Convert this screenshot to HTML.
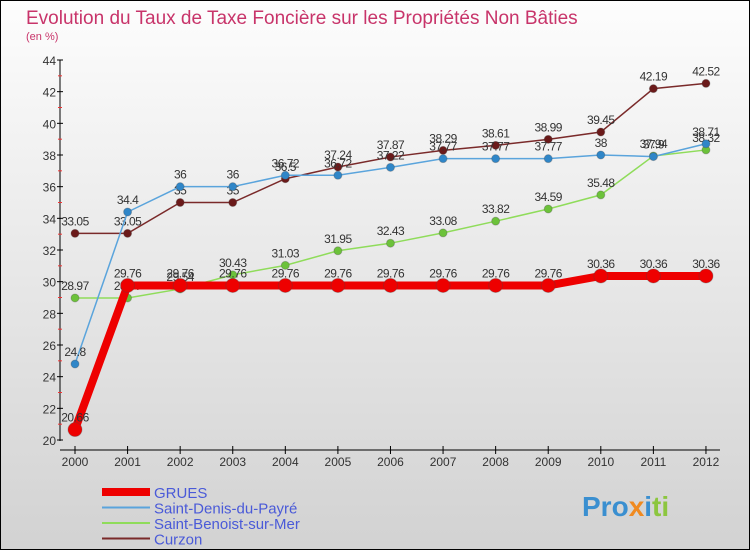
<!DOCTYPE html>
<html><head><meta charset="utf-8"><style>
body{margin:0;width:750px;height:550px;overflow:hidden;font-family:"Liberation Sans",sans-serif}
#c{position:absolute;left:0;top:0;width:748px;height:548px;border:1px solid #000;background:linear-gradient(#fdfdfd,#d2d2d2)}
</style></head><body>
<div id="c"></div>
<svg id="s" width="750" height="550" style="position:absolute;left:0;top:0" font-family="Liberation Sans, sans-serif">
<text x="26" y="24" font-size="19" fill="#c8346a">Evolution du Taux de Taxe Foncière sur les Propriétés Non Bâties</text>
<text x="26" y="40" font-size="11" fill="#c8346a">(en %)</text>
<g id="axes"></g><g id="series"></g><g id="legend"></g>
<text x="582" y="516" font-size="28" font-weight="bold" fill="#3a8fd0">Pro<tspan fill="#f08a20">x</tspan><tspan fill="#3a8fd0">i</tspan><tspan fill="#8cc63f">ti</tspan></text>
</svg>
<script>
const years=[2000,2001,2002,2003,2004,2005,2006,2007,2008,2009,2010,2011,2012];
const yTicks=[20,22,24,26,28,30,32,34,36,38,40,42,44];
const grues=[20.66,29.76,29.76,29.76,29.76,29.76,29.76,29.76,29.76,29.76,30.36,30.36,30.36];
const stDenis=[24.8,34.4,36,36,36.72,36.72,37.22,37.77,37.77,37.77,38,37.9,38.71];
const stBenoist=[28.97,28.97,29.54,30.43,31.03,31.95,32.43,33.08,33.82,34.59,35.48,37.94,38.32];
const curzon=[33.05,33.05,35,35,36.5,37.24,37.87,38.29,38.61,38.99,39.45,42.19,42.52];
const names=["GRUES","Saint-Denis-du-Payré","Saint-Benoist-sur-Mer","Curzon"];
const NS="http://www.w3.org/2000/svg";
const X=i=>75+i*52.58, Y=v=>440-(v-20)*380/24;
function mk(t,a,p){const e=document.createElementNS(NS,t);for(const k in a)e.setAttribute(k,a[k]);p.appendChild(e);return e;}
const ax=document.getElementById('axes');
let e=mk('line',{x1:60,y1:60,x2:60,y2:441,stroke:'#000'},ax);


e=mk('line',{x1:60,y1:450,x2:720,y2:450,stroke:'#000'},ax);


yTicks.forEach((v,i)=>{mk('line',{x1:57,x2:63,y1:Y(v),y2:Y(v),stroke:'#000'},ax);
if(i<yTicks.length-1)mk('line',{x1:58,x2:62,y1:Y(v+1),y2:Y(v+1),stroke:'#e33'},ax);
const t=mk('text',{x:56,y:Y(v)+5,'text-anchor':'end','font-size':12,fill:'#333'},ax);t.textContent=v;

});
years.forEach((y,i)=>{mk('line',{x1:X(i),x2:X(i),y1:446,y2:454,stroke:'#000'},ax);
const t=mk('text',{x:X(i),y:466,'text-anchor':'middle','font-size':12,fill:'#333'},ax);t.textContent=y;

});
const sg=document.getElementById('series');
const defs=[[curzon,'#7a2a2a','#6b1a1a',1.5,4],[stBenoist,'#8fdc5a','#6cc23a',1.5,4],[stDenis,'#5aa4dc','#2f86c8',1.5,4],[grues,'#ee0000','#ee0000',8,7]];
const keys=['curzon','saint-benoist','saint-denis','grues'];
defs.forEach((d,k)=>{const g=mk('g',{},sg);


const l=mk('polyline',{points:d[0].map((v,i)=>X(i)+','+Y(v)).join(' '),fill:'none',stroke:d[1],'stroke-width':d[3]},g);


d[0].forEach((v,i)=>{const c=mk('circle',{cx:X(i),cy:Y(v),r:d[4],fill:d[2],stroke:'#444','stroke-opacity':0.3},g);


const t=mk('text',{x:X(i),y:Y(v)-8,'text-anchor':'middle','font-size':12,fill:'#333','letter-spacing':'-0.5'},g);t.textContent=v;

});});
const lg=document.getElementById('legend');
const lc=['#ee0000','#5aa4dc','#8fdc5a','#7a2a2a'],lw=[8,2,2,2];
names.forEach((n,i)=>{const y=492+i*15.5;
const l=mk('line',{x1:102,x2:150,y1:y,y2:y,stroke:lc[i],'stroke-width':lw[i]},lg);


const t=mk('text',{x:154,y:y+6,'font-size':15,fill:'#4a5ad8'},lg);t.textContent=n;

});
</script>
</body></html>
